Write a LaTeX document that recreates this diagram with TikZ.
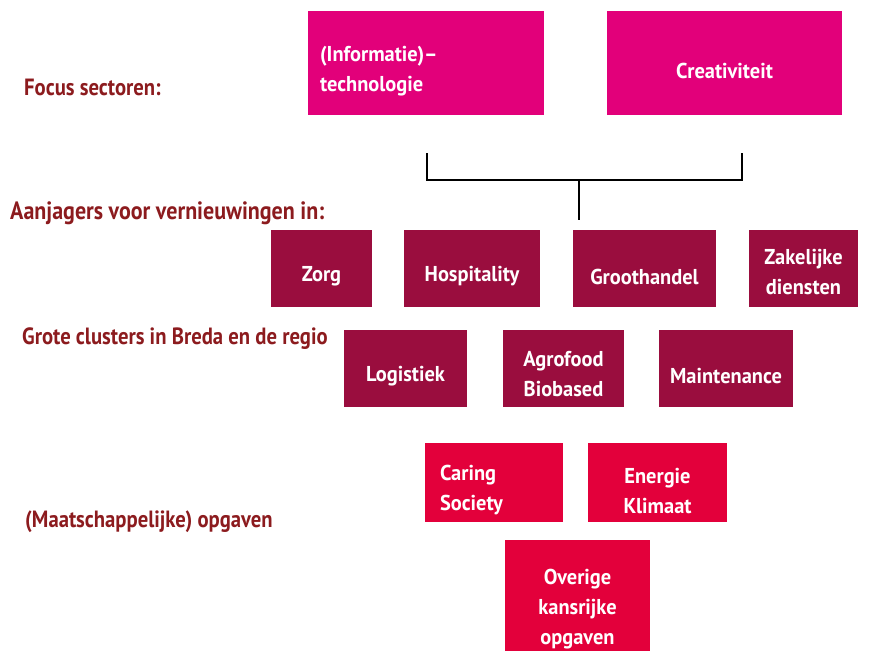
\documentclass[tikz,border=0pt]{standalone}
\usepackage{fontspec}
\setmainfont{PT Sans}[FakeStretch=0.95]
\newfontfamily\labfont{PT Sans}[FakeStretch=0.88]
\definecolor{cmag}{HTML}{E2007A}
\definecolor{cdark}{HTML}{9A0D3E}
\definecolor{cred}{HTML}{E3003B}
\definecolor{clab}{HTML}{8C1B1E}
\begin{document}
\begin{tikzpicture}[x=1pt,y=-1pt,
  box/.style={rectangle, inner sep=0pt},
  bt/.style={inner sep=0pt, text=white, align=center, yshift=-8pt,
    font=\bfseries\fontsize{21.5}{30}\selectfont},
  lab/.style={anchor=west, inner sep=0pt, text=clab,
    font=\labfont\bfseries\fontsize{23.5}{26}\selectfont},
  conn/.style={draw=black, line width=1.4pt}]
\useasboundingbox (0,0) rectangle (874,650);
% labels
\node[lab] (l1) at (24,87) {Focus sectoren:};
\node[lab, font=\labfont\bfseries\fontsize{25}{26}\selectfont] (l2) at (10,213) {Aanjagers voor vernieuwingen in:};
\node[lab] (l3) at (22,339) {Grote clusters in Breda en de regio};
\node[lab] (l4) at (25,522) {(Maatschappelijke) opgaven};
% top row
\node[box, fill=cmag, minimum width=236pt, minimum height=104pt,
  label={[bt, text width=212pt, align=left]center:{(Informatie)--\\technologie}}] (it) at (426,63) {};
\node[box, fill=cmag, minimum width=235pt, minimum height=104pt,
  label={[bt]center:{Creativiteit}}] (cr) at (724.5,63) {};
% bracket
\coordinate (b1) at (427,153);
\coordinate (b2) at (742,153);
\coordinate (bm) at (579,180);
\coordinate (bs) at (579,220);
\draw[conn] (b1) |- (bm) -| (b2);
\draw[conn] (bm) -- (bs);
% row 2
\node[box, fill=cdark, minimum width=101pt, minimum height=77pt,
  label={[bt]center:{Zorg}}] (zorg) at (321.5,268.5) {};
\node[box, fill=cdark, minimum width=136pt, minimum height=77pt,
  label={[bt]center:{Hospitality}}] (hosp) at (472,268.5) {};
\node[box, fill=cdark, minimum width=143pt, minimum height=77pt,
  label={[bt]center:{Groothandel}}] (groot) at (644.5,268.5) {};
\node[box, fill=cdark, minimum width=109pt, minimum height=77pt,
  label={[bt, yshift=4pt]center:{Zakelijke\\diensten}}] (zak) at (803.5,268.5) {};
% row 3
\node[box, fill=cdark, minimum width=123pt, minimum height=77pt,
  label={[bt]center:{Logistiek}}] (log) at (405.5,368.5) {};
\node[box, fill=cdark, minimum width=121pt, minimum height=77pt,
  label={[bt, yshift=2pt]center:{Agrofood\\Biobased}}] (agro) at (563.5,368.5) {};
\node[box, fill=cdark, minimum width=134pt, minimum height=77pt,
  label={[bt]center:{Maintenance}}] (maint) at (726,368.5) {};
% row 4
\node[box, fill=cred, minimum width=138pt, minimum height=79pt,
  label={[bt, text width=108pt, align=left]center:{Caring\\Society}}] (care) at (494,482.5) {};
\node[box, fill=cred, minimum width=139pt, minimum height=79pt,
  label={[bt]center:{Energie\\Klimaat}}] (ener) at (657.5,482.5) {};
\node[box, fill=cred, minimum width=145pt, minimum height=124pt,
  label={[bt, yshift=1pt]center:{Overige\\kansrijke\\opgaven}}] (over) at (577.5,602) {};
\end{tikzpicture}
\end{document}
